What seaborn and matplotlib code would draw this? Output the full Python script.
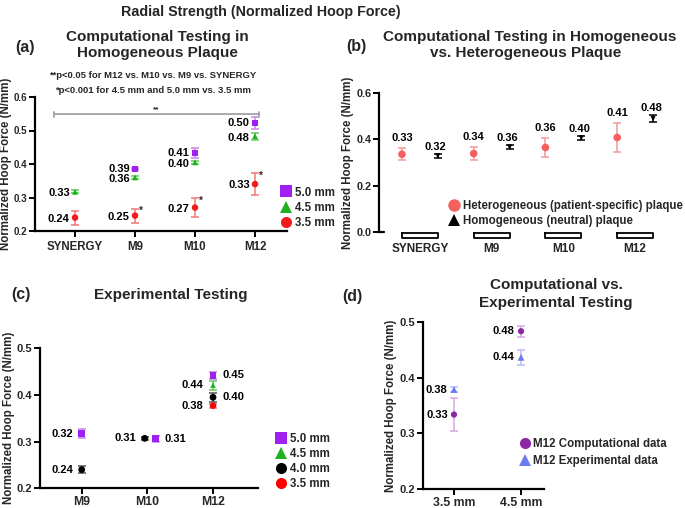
import numpy as np
import pandas as pd
import matplotlib
matplotlib.use('Agg')
import matplotlib.pyplot as plt
import matplotlib.transforms as mtransforms
from matplotlib.lines import Line2D
import seaborn as sns

nan = np.nan
# ---------------- data ----------------
# Panel (a)
a_stents = ['SYNERGY', 'M9', 'M10', 'M12']
a_sizes = ['5.0 mm', '4.5 mm', '3.5 mm']
a_mean_50 = [nan, 0.385, 0.432, 0.522]
a_err_50 = [nan, 0.004, 0.015, 0.018]
a_lab_50 = ['', '0.39', '0.41', '0.50']
a_mean_45 = [0.317, 0.360, 0.405, 0.483]
a_err_45 = [0.004, 0.004, 0.004, 0.011]
a_lab_45 = ['0.33', '0.36', '0.40', '0.48']
a_mean_35 = [0.240, 0.246, 0.270, 0.340]
a_err_35 = [0.021, 0.021, 0.029, 0.034]
a_lab_35 = ['0.24', '0.25', '0.27', '0.33']
a_sig_35 = ['', '*', '*', '*']
a_note1 = '**p<0.05 for M12 vs. M10 vs. M9 vs. SYNERGY'
a_note2 = '*p<0.001 for 4.5 mm and 5.0 mm vs. 3.5 mm'

# Panel (b)
b_stents = ['SYNERGY', 'M9', 'M10', 'M12']
b_groups = ['Heterogeneous (patient-specific) plaque', 'Homogeneous (neutral) plaque']
b_het_mean = [0.335, 0.338, 0.364, 0.407]
b_het_err = [0.026, 0.029, 0.040, 0.062]
b_het_lab = ['0.33', '0.34', '0.36', '0.41']
b_hom_mean = [0.328, 0.366, 0.406, 0.488]
b_hom_err = [0.008, 0.007, 0.008, 0.015]
b_hom_lab = ['0.32', '0.36', '0.40', '0.48']

# Panel (c)
c_stents = ['M9', 'M10', 'M12']
c_sizes = ['5.0 mm', '4.5 mm', '4.0 mm', '3.5 mm']
c_mean_50 = [0.317, 0.306, 0.442]
c_err_50 = [0.010, 0.007, 0.008]
c_lab_50 = ['0.32', '0.31', '0.45']
c_mean_45 = [nan, nan, 0.421]
c_err_45 = [nan, nan, 0.010]
c_lab_45 = ['', '', '0.44']
c_mean_40 = [0.240, 0.307, 0.395]
c_err_40 = [0.007, 0.003, 0.009]
c_lab_40 = ['0.24', '0.31', '0.40']
c_mean_35 = [nan, nan, 0.377]
c_err_35 = [nan, nan, 0.004]
c_lab_35 = ['', '', '0.38']

# Panel (d)
d_sizes = ['3.5 mm', '4.5 mm']
d_groups = ['M12 Computational data', 'M12 Experimental data']
d_comp_mean = [0.334, 0.484]
d_comp_err = [0.029, 0.010]
d_comp_lab = ['0.33', '0.48']
d_exp_mean = [0.379, 0.437]
d_exp_err = [0.004, 0.013]
d_exp_lab = ['0.38', '0.44']

# ---------------- style ----------------
sns.set_theme(style='ticks')
plt.rcParams['font.family'] = ['Liberation Sans', 'DejaVu Sans']
plt.rcParams['font.weight'] = 'bold'
plt.rcParams['axes.labelweight'] = 'bold'

W, H = 685, 508
fig = plt.figure(figsize=(W / 100, H / 100), dpi=100)


def fx(px):
    return px / W


def fy(py):
    return 1 - py / H


def make_ax(l, r, t, b):
    return fig.add_axes([fx(l), fy(b), fx(r) - fx(l), fy(t) - fy(b)])


def style_ax(ax, ysize=8, xsize=8.5, xpad=3, ypad=1.5, lpad=1.5):
    for s in ['top', 'right']:
        ax.spines[s].set_visible(False)
    for s in ['left', 'bottom']:
        ax.spines[s].set_linewidth(1.6)
        ax.spines[s].set_color('black')
    ax.tick_params(axis='both', direction='out', length=4, width=1.4, color='black')
    ax.tick_params(axis='y', labelsize=ysize, pad=ypad)
    ax.tick_params(axis='x', labelsize=xsize, pad=xpad)
    for lab in ax.get_xticklabels() + ax.get_yticklabels():
        lab.set_fontweight('bold')
    ax.set_ylabel('Normalized Hoop Force (N/mm)', fontsize=8.3, fontweight='bold', labelpad=lpad)
    ax.set_xlabel('')
    ax.grid(False)
    ax.set_facecolor('white')


def series(ax, x, mean, err, color, ecolor, marker, s):
    df = pd.DataFrame({'x': x, 'y': mean, 'e': err}).dropna()
    ax.errorbar(df['x'], df['y'], yerr=df['e'], fmt='none', ecolor=ecolor,
                elinewidth=1.1, capsize=2.6, capthick=1.1, zorder=2)
    sns.scatterplot(data=df, x='x', y='y', marker=marker, color=color, s=s,
                    edgecolor='none', linewidth=0, ax=ax, legend=False, zorder=3)


def labels(ax, x, mean, labs, dx, dy=0, ha='right', va='center', size=8):
    for xi, yi, lb in zip(x, mean, labs):
        if lb == '' or np.isnan(yi):
            continue
        ax.annotate(lb, (xi, yi), xytext=(dx, dy), textcoords='offset points',
                    ha=ha, va=va, fontsize=size, fontweight='bold', color='black')


PURPLE = '#A020F0'
GREEN = '#1FB21F'
RED = '#F21A1A'

# ---------------- panel (a) ----------------
axa = make_ax(35, 287, 97, 231)
xa = np.arange(len(a_stents))
series(axa, xa, a_mean_50, a_err_50, PURPLE, '#C986EE', 's', 18)
series(axa, xa, a_mean_45, a_err_45, GREEN, '#62C862', '^', 18)
series(axa, xa, a_mean_35, a_err_35, RED, '#F07878', 'o', 22)
labels(axa, xa, a_mean_50, a_lab_50, -3.8)
labels(axa, xa, a_mean_45, a_lab_45, -3.8, -1)
labels(axa, xa, a_mean_35, a_lab_35, -3.8, -0.8)
for xi, m, e, sg in zip(xa, a_mean_35, a_err_35, a_sig_35):
    if sg:
        axa.annotate(sg, (xi, m + e), xytext=(3, -2), textcoords='offset points',
                     ha='left', va='center', fontsize=7, fontweight='bold')
axa.plot([-0.35, 3.07], [0.548, 0.548], color='#A3A3A3', lw=1.3, zorder=1)
axa.plot([-0.35, -0.35], [0.540, 0.556], color='#A3A3A3', lw=1.3)
axa.plot([3.07, 3.07], [0.540, 0.556], color='#A3A3A3', lw=1.3)
axa.text(1.36, 0.551, '**', ha='center', va='bottom', fontsize=6, fontweight='bold')
axa.set_xlim(-0.667, 3.533)
axa.set_ylim(0.2, 0.6)
axa.set_yticks([0.2, 0.3, 0.4, 0.5, 0.6])
axa.set_yticklabels(['0.2', '0.3', '0.4', '0.5', '0.6'])
axa.set_xticks(xa)
axa.set_xticklabels(a_stents)
style_ax(axa, ysize=7, xsize=8.3, xpad=3, lpad=1)
ha_a = [Line2D([], [], ls='none', marker=m, color=c, markersize=8, markeredgewidth=0)
        for m, c in zip(['s', '^', 'o'], [PURPLE, GREEN, RED])]
axa.legend(ha_a, a_sizes, loc='upper left', bbox_to_anchor=(fx(281), fy(186.5)),
           bbox_transform=fig.transFigure, frameon=False,
           handlelength=0.9, handletextpad=0.35, labelspacing=0.28, borderpad=0,
           borderaxespad=0, prop={'weight': 'bold', 'size': 8.3})

fig.text(fx(157), fy(37), 'Computational Testing in', ha='center', va='center',
         fontsize=11, fontweight='bold')
fig.text(fx(157), fy(53.5), 'Homogeneous Plaque', ha='center', va='center',
         fontsize=11, fontweight='bold')
fig.text(fx(153), fy(76), a_note1, ha='center', va='center', fontsize=6.8, fontweight='bold')
fig.text(fx(153.5), fy(90.7), a_note2, ha='center', va='center', fontsize=6.8, fontweight='bold')
fig.text(fx(25), fy(47), '(a)', ha='center', va='center', fontsize=11.5, fontweight='bold')

# ---------------- panel (b) ----------------
axb = make_ax(379, 671, 92.7, 232)
xb = np.arange(len(b_stents))
off = 0.25
HET = '#F4605E'
series(axb, xb - off, b_het_mean, b_het_err, HET, '#F29A98', 'o', 30)
series(axb, xb + off, b_hom_mean, b_hom_err, 'black', 'black', 'v', 14)
labels(axb, xb - off, np.array(b_het_mean) + np.array(b_het_err), b_het_lab, 0, 3.5,
       ha='center', va='bottom')
labels(axb, xb + off, np.array(b_hom_mean) + np.array(b_hom_err), b_hom_lab, -1.5, 1.5,
       ha='center', va='bottom')
axb.set_xlim(-0.57, 3.5)
axb.set_ylim(0.0, 0.6)
axb.set_yticks([0.0, 0.2, 0.4, 0.6])
axb.set_yticklabels(['0.0', '0.2', '0.4', '0.6'])
axb.set_xticks(xb)
axb.set_xticklabels(b_stents)
style_ax(axb, ysize=7.8, xsize=8.5, lpad=1.5)
axb.spines['bottom'].set_visible(False)
axb.tick_params(axis='x', length=0, pad=8)
trans = mtransforms.blended_transform_factory(axb.transData, axb.transAxes)
for xi in xb:
    x0, x1 = xi - off, xi + off
    axb.plot([x0, x1, x1, x0, x0], [-0.008, -0.008, -0.042, -0.042, -0.008],
             color='black', lw=1.3, transform=trans, clip_on=False)
axb.plot([-0.57, -0.5], [0, 0], color='black', lw=1.6, transform=trans, clip_on=False)
hb = [Line2D([], [], ls='none', marker='o', color=HET, markersize=9, markeredgewidth=0),
      Line2D([], [], ls='none', marker='^', color='black', markersize=8.5, markeredgewidth=0)]
axb.legend(hb, b_groups, loc='upper left', bbox_to_anchor=(fx(449), fy(200)),
           bbox_transform=fig.transFigure, frameon=False,
           handlelength=0.9, handletextpad=0.3, labelspacing=0.28, borderpad=0,
           borderaxespad=0, prop={'weight': 'bold', 'size': 8.3})

fig.text(fx(530), fy(37), 'Computational Testing in Homogeneous', ha='center', va='center',
         fontsize=11, fontweight='bold')
fig.text(fx(526), fy(53.5), 'vs. Heterogeneous Plaque', ha='center', va='center',
         fontsize=11, fontweight='bold')
fig.text(fx(356), fy(46), '(b)', ha='center', va='center', fontsize=11.5, fontweight='bold')

# ---------------- panel (c) ----------------
axc = make_ax(40, 258, 348.3, 488.3)
xc = np.arange(len(c_stents))
off50 = np.array([0.0, 0.13, 0.0])
off40 = np.array([0.0, -0.04, 0.0])
series(axc, xc + off50, c_mean_50, c_err_50, PURPLE, '#C986EE', 's', 24)
series(axc, xc, c_mean_45, c_err_45, GREEN, '#62C862', '^', 16)
series(axc, xc + off40, c_mean_40, c_err_40, 'black', '#555555', 'o', 24)
series(axc, xc, c_mean_35, c_err_35, '#FF0000', '#F07878', 'o', 22)
side50 = ['L', 'R', 'R']
side40 = ['L', 'L', 'R']
for xi, m, lb, sd in zip(xc + off50, c_mean_50, c_lab_50, side50):
    labels(axc, [xi], [m], [lb], -6 if sd == 'L' else 6.5, ha='right' if sd == 'L' else 'left')
for xi, m, lb, sd in zip(xc + off40, c_mean_40, c_lab_40, side40):
    labels(axc, [xi], [m], [lb], -6 if sd == 'L' else 6.5, ha='right' if sd == 'L' else 'left')
labels(axc, xc, c_mean_45, c_lab_45, -7)
labels(axc, xc, c_mean_35, c_lab_35, -7)
axc.set_xlim(-0.635, 2.685)
axc.set_ylim(0.2, 0.5)
axc.set_yticks([0.2, 0.3, 0.4, 0.5])
axc.set_yticklabels(['0.2', '0.3', '0.4', '0.5'])
axc.set_xticks(xc)
axc.set_xticklabels(c_stents)
style_ax(axc, ysize=8, xsize=8.8, xpad=1.5, lpad=1.5)
hc = [Line2D([], [], ls='none', marker=m, color=c, markersize=8, markeredgewidth=0)
      for m, c in zip(['s', '^', 'o', 'o'], [PURPLE, GREEN, 'black', '#FF0000'])]
axc.legend(hc, c_sizes, loc='upper left', bbox_to_anchor=(fx(275.5), fy(433)),
           bbox_transform=fig.transFigure, frameon=False,
           handlelength=0.9, handletextpad=0.35, labelspacing=0.25, borderpad=0,
           borderaxespad=0, prop={'weight': 'bold', 'size': 8.3})
fig.text(fx(170.5), fy(295), 'Experimental Testing', ha='center', va='center',
         fontsize=11, fontweight='bold')
fig.text(fx(21), fy(295), '(c)', ha='center', va='center', fontsize=11.5, fontweight='bold')

# ---------------- panel (d) ----------------
axd = make_ax(422.7, 544, 322.3, 489)
xd = np.arange(len(d_sizes))
COMP = '#8E27A6'
EXP = '#6C7BF4'
series(axd, xd, d_comp_mean, d_comp_err, COMP, '#D6A8E2', 'o', 20)
series(axd, xd, d_exp_mean, d_exp_err, EXP, '#B7BDF7', '^', 24)
labels(axd, xd, d_comp_mean, d_comp_lab, -4.5)
labels(axd, xd, d_exp_mean, d_exp_lab, -4.5)
axd.set_xlim(-0.467, 1.343)
axd.set_ylim(0.2, 0.5)
axd.set_yticks([0.2, 0.3, 0.4, 0.5])
axd.set_yticklabels(['0.2', '0.3', '0.4', '0.5'])
axd.set_xticks(xd)
axd.set_xticklabels(d_sizes)
style_ax(axd, ysize=8, xsize=8.8, xpad=2, lpad=1.5)
hd = [Line2D([], [], ls='none', marker='o', color=COMP, markersize=8, markeredgewidth=0),
      Line2D([], [], ls='none', marker='^', color=EXP, markersize=8, markeredgewidth=0)]
axd.legend(hd, d_groups, loc='upper left', bbox_to_anchor=(fx(519.5), fy(438.5)),
           bbox_transform=fig.transFigure, frameon=False,
           handlelength=0.9, handletextpad=0.3, labelspacing=0.35, borderpad=0,
           borderaxespad=0, prop={'weight': 'bold', 'size': 8.3})
fig.text(fx(556), fy(285), 'Computational vs.', ha='center', va='center',
         fontsize=11, fontweight='bold')
fig.text(fx(556), fy(303), 'Experimental Testing', ha='center', va='center',
         fontsize=11, fontweight='bold')
fig.text(fx(352), fy(296), '(d)', ha='center', va='center', fontsize=11.5, fontweight='bold')

# ---------------- overall title ----------------
fig.text(fx(261), fy(12), 'Radial Strength (Normalized Hoop Force)', ha='center', va='center',
         fontsize=10.3, fontweight='bold')

fig.savefig('out.png', dpi=100, facecolor='white')
